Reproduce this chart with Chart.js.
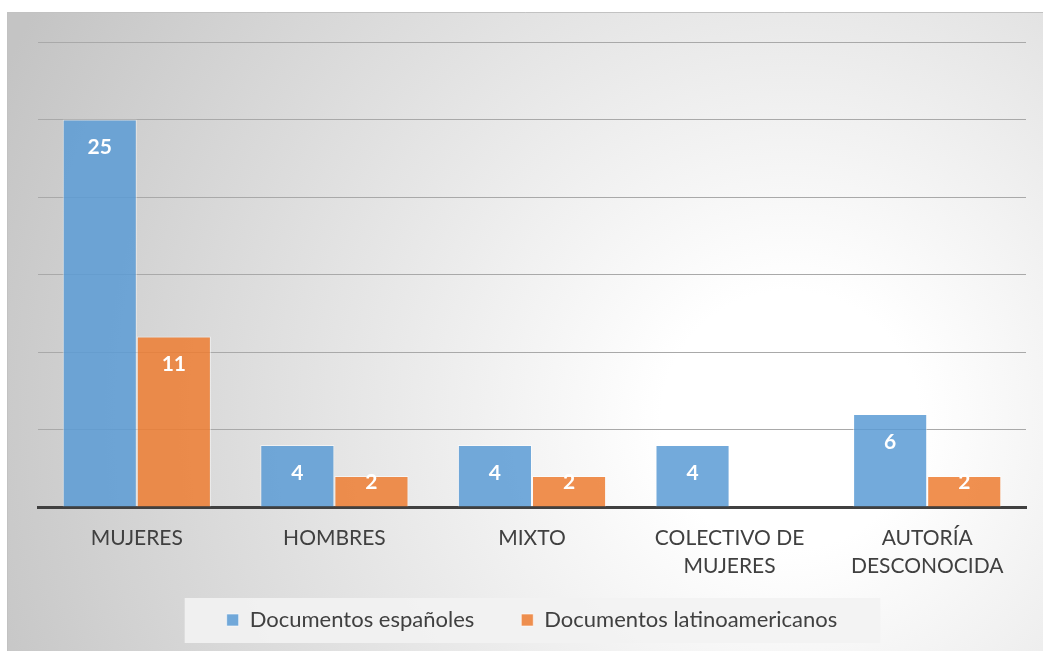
<!DOCTYPE html>
<html>
<head>
<meta charset="utf-8">
<script src="https://cdn.jsdelivr.net/npm/chart.js@4.4.1/dist/chart.umd.min.js"></script>
<style>
  html, body { margin: 0; padding: 0; background: #ffffff; }
  #wrap { width: 1043px; height: 651px; position: relative; }
</style>
</head>
<body>
<div id="wrap"><canvas id="c" width="1043" height="651"></canvas></div>
<script>
const categories = ['MUJERES', 'HOMBRES', 'MIXTO', ['COLECTIVO DE', 'MUJERES'], ['AUTORÍA', 'DESCONOCIDA']];
const seriesNames = ['Documentos españoles', 'Documentos latinoamericanos'];
const espanoles = [25, 4, 4, 4, 6];
const latinoamericanos = [11, 2, 2, 0, 2];
const yTicks = { min: 0, max: 30, step: 5 };

const FONT = 'Lato, "Open Sans", "DejaVu Sans", sans-serif';

const bgPlugin = {
  id: 'bg',
  afterLayout(chart) {
    const x = chart.scales.x;
    if (x) x.bottom = x.top + 90; // let the two-line tick labels draw unclipped
  },
  beforeDraw(chart) {
    const ctx = chart.ctx;
    const W = chart.width, H = chart.height;
    ctx.save();
    ctx.fillStyle = '#ffffff';
    ctx.fillRect(0, 0, W, H);
    const x0 = 7, y0 = 12;
    const g = ctx.createRadialGradient(790, 420, 0, 790, 420, 860);
    g.addColorStop(0, '#ffffff');
    g.addColorStop(0.15, '#ffffff');
    g.addColorStop(1, '#c4c4c4');
    ctx.fillStyle = g;
    ctx.fillRect(x0, y0, W - x0, H - y0);
    ctx.strokeStyle = '#c2c2c2';
    ctx.lineWidth = 1;
    ctx.beginPath();
    ctx.moveTo(x0 + 0.5, H);
    ctx.lineTo(x0 + 0.5, y0 + 0.5);
    ctx.lineTo(W, y0 + 0.5);
    ctx.stroke();
    // legend box
    const lg = chart.legend;
    if (lg && lg.legendHitBoxes && lg.legendHitBoxes.length) {
      let l = Infinity, r = -Infinity, t = Infinity, b = -Infinity;
      lg.legendHitBoxes.forEach(h => {
        l = Math.min(l, h.left); r = Math.max(r, h.left + h.width);
        t = Math.min(t, h.top); b = Math.max(b, h.top + h.height);
      });
      ctx.fillStyle = 'rgba(242,242,242,0.92)';
      ctx.fillRect(l - 42, t - 11, (r - l) + 42 + 43, (b - t) + 23);
    }
    ctx.restore();
  }
};

const labelPlugin = {
  id: 'vals',
  afterDatasetsDraw(chart) {
    const ctx = chart.ctx;
    ctx.save();
    ctx.font = 'bold 21px ' + FONT;
    ctx.fillStyle = '#ffffff';
    ctx.textAlign = 'center';
    ctx.textBaseline = 'middle';
    chart.data.datasets.forEach((ds, i) => {
      const meta = chart.getDatasetMeta(i);
      meta.data.forEach((bar, j) => {
        const y = Math.min(bar.y + 28, bar.base - 24);
        ctx.fillText(String(ds.data[j]), bar.x, y);
      });
    });
    ctx.restore();
  }
};

new Chart(document.getElementById('c'), {
  type: 'bar',
  data: {
    labels: categories,
    datasets: [
      {
        label: seriesNames[0],
        data: espanoles,
        backgroundColor: 'rgba(91,155,213,0.85)',
        borderColor: 'rgba(255,255,255,0.55)',
        borderWidth: 1,
        categoryPercentage: 0.75,
        barPercentage: 1.0
      },
      {
        label: seriesNames[1],
        data: latinoamericanos,
        backgroundColor: 'rgba(237,125,49,0.85)',
        borderColor: 'rgba(255,255,255,0.55)',
        borderWidth: 1,
        categoryPercentage: 0.75,
        barPercentage: 1.0
      }
    ]
  },
  options: {
    responsive: false,
    animation: false,
    layout: { padding: { left: 38, right: 17, top: 42, bottom: 10 } },
    plugins: {
      legend: {
        position: 'bottom',
        maxHeight: 80,
        labels: {
          boxWidth: 12,
          boxHeight: 12,
          padding: 47,
          color: '#404040',
          font: { family: FONT, size: 22 },
          generateLabels(chart) {
            return chart.data.datasets.map((ds, i) => ({
              text: ds.label,
              fillStyle: ds.backgroundColor,
              strokeStyle: 'rgba(255,255,255,0.6)',
              lineWidth: 1,
              hidden: false,
              datasetIndex: i,
              fontColor: '#404040'
            }));
          }
        }
      },
      tooltip: { enabled: false }
    },
    scales: {
      x: {
        grid: { display: false, drawTicks: false },
        border: { display: true, color: '#404040', width: 3 },
        ticks: {
          color: '#404040',
          font: { family: FONT, size: 21, lineHeight: 1.333 },
          padding: 17,
          maxRotation: 0,
          autoSkip: false
        },
        afterFit(scale) { scale.height = 55; }
      },
      y: {
        min: yTicks.min,
        max: yTicks.max,
        ticks: { display: false, stepSize: yTicks.step },
        grid: { color: '#a9a9a9', lineWidth: 1, drawTicks: false },
        border: { display: false },
        afterFit(scale) { scale.width = 0; }
      }
    }
  },
  plugins: [bgPlugin, labelPlugin]
});
</script>
</body>
</html>
